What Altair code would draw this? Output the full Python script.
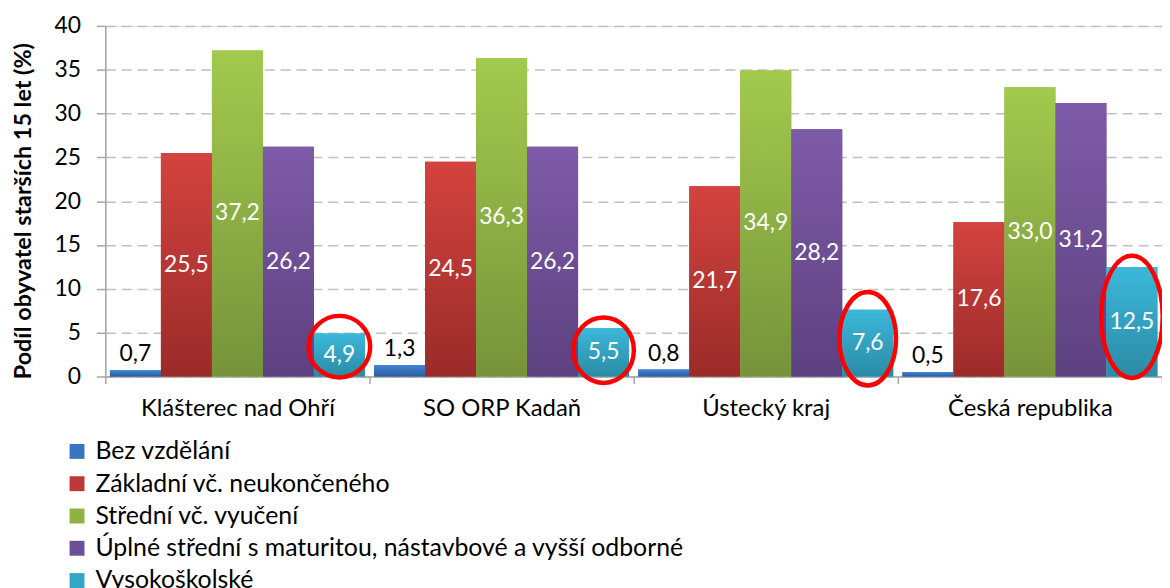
import altair as alt
import pandas as pd

groups = ["Klášterec nad Ohří", "SO ORP Kadaň", "Ústecký kraj", "Česká republika"]
series = [
    "Bez vzdělání",
    "Základní vč. neukončeného",
    "Střední vč. vyučení",
    "Úplné střední s maturitou, nástavbové a vyšší odborné",
    "Vysokoškolské",
]
bez = [0.7, 1.3, 0.8, 0.5]
zakladni = [25.5, 24.5, 21.7, 17.6]
stredni = [37.2, 36.3, 34.9, 33.0]
uplne = [26.2, 26.2, 28.2, 31.2]
vysoko = [4.9, 5.5, 7.6, 12.5]

# red ellipses highlighting the university bars (centre in data units, size in px)
ell_center = [3.4, 3.0, 4.3, 6.8]
ell_w = [62, 61, 57, 62]
ell_h = [62, 66, 94, 123]

solid = ["#3A73BF", "#BE3835", "#8DB443", "#6E4E98", "#33A6C8"]
tops = ["#4285D6", "#D4433F", "#A2CA4E", "#7E5BA8", "#3CB8DA"]
bottoms = ["#2D5C9C", "#9A2B29", "#76933A", "#5D417F", "#2A8BA6"]

FONT = "Lato"

vals = [bez, zakladni, stredni, uplne, vysoko]
rows = []
for s, v in zip(series, vals):
    for g, x in zip(groups, v):
        rows.append({"group": g, "series": s, "value": x})
df = pd.DataFrame(rows)


def ellipse_path(w, h):
    m = max(w, h)
    a, b = w / m, h / m
    k = 0.5523
    return (f"M {a} 0 C {a} {k*b} {k*a} {b} 0 {b} C {-k*a} {b} {-a} {k*b} {-a} 0 "
            f"C {-a} {-k*b} {-k*a} {-b} 0 {-b} C {k*a} {-b} {a} {-k*b} {a} 0 Z")


ell_df = pd.DataFrame({
    "group": groups,
    "series": [series[4]] * 4,
    "yc": ell_center,
    "shp": [ellipse_path(w, h) for w, h in zip(ell_w, ell_h)],
    "sz": [max(w, h) ** 2 for w, h in zip(ell_w, ell_h)],
})

x_enc = alt.X(
    "group:N",
    sort=groups,
    scale=alt.Scale(paddingInner=0, paddingOuter=0),
    axis=alt.Axis(
        title=None, labelAngle=0, tickBand="extent", tickSize=7, tickColor="#A6A6A6",
        tickWidth=1.5, domainColor="#A6A6A6", domainWidth=1.5, labelFontSize=24,
        labelFont=FONT, labelColor="#000000", labelPadding=13, grid=False,
        labelLimit=400,
    ),
)
xo_enc = alt.XOffset("series:N", sort=series, scale=alt.Scale(paddingInner=0, paddingOuter=0.09))

y_scale = alt.Scale(domain=[0, 40], nice=False)
y_axis = alt.Axis(
    title="Podíl obyvatel starších 15 let (%)", values=list(range(0, 41, 5)),
    tickSize=9, tickColor="#A6A6A6", tickWidth=1.5, domainColor="#A6A6A6", domainWidth=1.5,
    labelFontSize=23, labelFont=FONT, labelColor="#000000", labelPadding=16,
    grid=True, gridDash=[10, 6], gridColor="#C0C0C0", gridWidth=1.5,
    titleFont=FONT, titleFontSize=23.5, titleFontWeight="bold", titleColor="#000000",
    titleAngle=-90, titleX=-82, titleY=186, titleAlign="center", titleBaseline="middle",
)

base = alt.Chart(df)

legend_bars = base.mark_bar().encode(
    x=x_enc,
    xOffset=xo_enc,
    y=alt.Y("value:Q", scale=y_scale, axis=y_axis),
    color=alt.Color(
        "series:N", sort=series, scale=alt.Scale(domain=series, range=solid),
        legend=alt.Legend(
            title=None, orient="none", legendX=-41, legendY=416, direction="vertical",
            symbolType="square", symbolSize=225, symbolStrokeWidth=0, symbolOpacity=1,
            labelFont=FONT, labelFontSize=25, labelColor="#000000", labelLimit=900,
            rowPadding=6.5, labelOffset=6, padding=0,
        ),
    ),
)

layers = [legend_bars]
for s, t, b in zip(series, tops, bottoms):
    layers.append(
        base.transform_filter(alt.datum.series == s).mark_bar(
            color=alt.Gradient(
                gradient="linear",
                stops=[alt.GradientStop(color=t, offset=0), alt.GradientStop(color=b, offset=1)],
                x1=0, x2=0, y1=0, y2=1,
            )
        ).encode(x=x_enc, xOffset=xo_enc, y=alt.Y("value:Q", scale=y_scale))
    )

lbl_expr = "replace(format(datum.value, '.1f'), '.', ',')"

outside = base.transform_filter(alt.datum.series == series[0]).transform_calculate(
    lbl=lbl_expr
).mark_text(font=FONT, fontSize=23, color="#000000", baseline="alphabetic", dy=-9).encode(
    x=x_enc, xOffset=xo_enc, y=alt.Y("value:Q", scale=y_scale), text="lbl:N"
)

inside = base.transform_filter(alt.datum.series != series[0]).transform_calculate(
    lbl=lbl_expr, mid="datum.value / 2"
).mark_text(font=FONT, fontSize=23, color="#FFFFFF", baseline="middle").encode(
    x=x_enc, xOffset=xo_enc, y=alt.Y("mid:Q", scale=y_scale), text="lbl:N"
)

ellipses = alt.Chart(ell_df).mark_point(
    filled=False, stroke="#FF0000", strokeWidth=4.5, opacity=1
).encode(
    x=x_enc, xOffset=xo_enc,
    y=alt.Y("yc:Q", scale=y_scale),
    shape=alt.Shape("shp:N", scale=None),
    size=alt.Size("sz:Q", scale=None),
)

layers += [outside, inside, ellipses]

chart = alt.layer(*layers).properties(
    width=1064, height=353,
    autosize=alt.AutoSizeParams(type="none"),
    padding={"left": 98, "top": 16, "right": 0, "bottom": 211},
).configure_view(stroke=None).configure(background="#FFFFFF")

chart.save("out.html", embed_options={"renderer": "svg", "actions": False})
